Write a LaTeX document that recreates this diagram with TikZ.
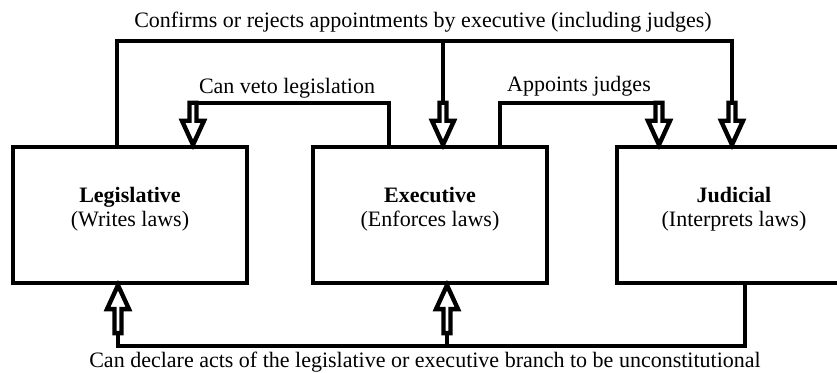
\documentclass[tikz,border=0pt]{standalone}
\usepackage{fontspec}
\setmainfont{Liberation Serif}
\tikzset{
  pics/hollow/.style={code={
    \draw[line width=2.2pt, fill=white, miter limit=10] (0,0) -- (-11,-24) -- (-3.5,-24) -- (-3.5,-#1) -- (3.5,-#1) -- (3.5,-24) -- (11,-24) -- cycle;
  }}
}
\begin{document}
\begin{tikzpicture}[x=0.5pt, y=-0.5pt,
        box/.style={rectangle, draw, line width=2.2pt, minimum width=117pt, minimum height=68pt, align=center, font=\fontsize{11}{12}\selectfont, text depth=8pt},
        link/.style={line width=2.2pt},
        note/.style={font=\fontsize{11}{13}\selectfont, anchor=base, inner sep=0pt}
    ]
        \useasboundingbox (0,0) rectangle (837,373);
        \clip (0,0) rectangle (837,373);

        % Branches
        \node[box] (leg) at (130,215) {\textbf{Legislative}\\(Writes laws)};
        \node[box] (exec) at (430,215) {\textbf{Executive}\\(Enforces laws)};
        \node[box] (jud) at (734,215) {\textbf{Judicial}\\(Interprets laws)};

        % Bends of the connectors
        \coordinate (conf-l) at (117,41);
        \coordinate (conf-m) at (443,41);
        \coordinate (conf-r) at (732,41);
        \coordinate (veto-r) at (389,103);
        \coordinate (veto-l) at (193,103);
        \coordinate (appt-l) at (500,103);
        \coordinate (appt-r) at (659,103);
        \coordinate (rev-r) at (745,346);
        \coordinate (rev-m) at (447,346);
        \coordinate (rev-l) at (118,346);

        % Confirms or rejects
        \draw[link] (leg.north -| conf-l) -- (conf-l) -- (conf-r) -- (conf-r |- veto-l);
        \draw[link] (conf-m) -- (conf-m |- veto-l);
        \pic at (exec.north -| conf-m) {hollow=42};
        \pic at (jud.north -| conf-r) {hollow=42};

        % Veto
        \draw[link] (exec.north -| veto-r) -- (veto-r) -- (veto-l);
        \pic at (leg.north -| veto-l) {hollow=42};

        % Appoints
        \draw[link] (exec.north -| appt-l) -- (appt-l) -- (appt-r);
        \pic at (jud.north -| appt-r) {hollow=42};

        % Judicial review
        \draw[link] (jud.south -| rev-r) -- (rev-r) -- (rev-l) -- ++(0,-13);
        \draw[link] (rev-m) -- ++(0,-13);
        \pic[rotate=180] at (leg.south -| rev-l) {hollow=48};
        \pic[rotate=180] at (exec.south -| rev-m) {hollow=48};

        % Labels
        \node[note] (conf-txt) at (423,28) {Confirms or rejects appointments by executive (including judges)};
        \node[note] (veto-txt) at (287,94) {Can veto legislation};
        \node[note] (appt-txt) at (579,92) {Appoints judges};
        \node[note] (rev-txt) at (425,368) {Can declare acts of the legislative or executive branch to be unconstitutional};
    \end{tikzpicture}
\end{document}
